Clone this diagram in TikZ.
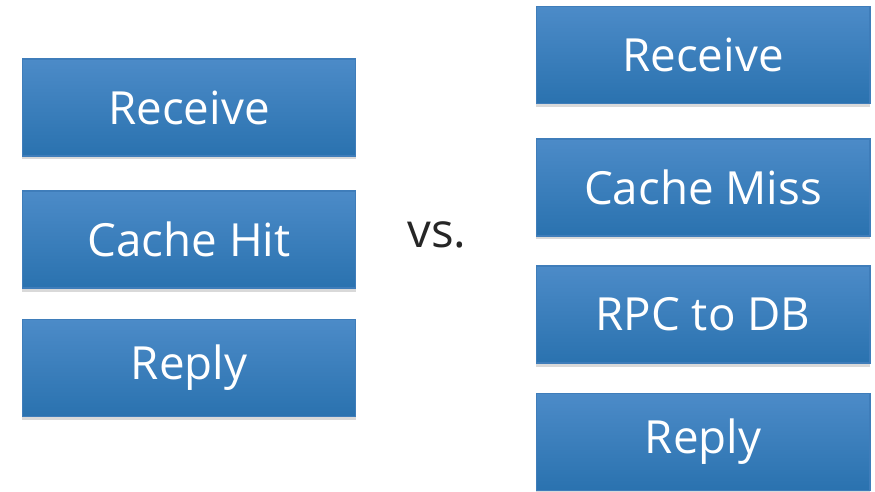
\documentclass[tikz,border=0pt]{standalone}
\usepackage{fontspec}
\setmainfont{Open Sans}
\usetikzlibrary{shadows}
\definecolor{boxtop}{HTML}{4C8BC8}
\definecolor{boxbottom}{HTML}{2A72AF}
\definecolor{boxline}{HTML}{3F7DBA}
\tikzset{
  stepbox/.style={draw=boxline, line width=0.6pt, top color=boxtop, bottom color=boxbottom,
    minimum width=6.68cm, minimum height=1.94cm, inner sep=0pt, text=white,
    font=\fontsize{26}{30}\selectfont,
    drop shadow={shadow xshift=0pt, shadow yshift=-2pt, opacity=0.25, fill=black!60}},
}
\begin{document}
\begin{tikzpicture}[x=0.02cm,y=-0.02cm]
  \useasboundingbox (0,0) rectangle (875,492);
  % cache hit
  \node[stepbox] (hitrecv) at (189,107.5) {Receive};
  \node[stepbox] (hit) at (189,239.5) {Cache Hit};
  \node[stepbox] (hitreply) at (189,368) {Reply};
  \node[text=black!85, font=\fontsize{27}{32}\selectfont] (vs) at (437,235) {vs.};
  % cache miss
  \node[stepbox] (missrecv) at (703,55) {Receive};
  \node[stepbox] (miss) at (703,187.5) {Cache Miss};
  \node[stepbox] (rpc) at (703,314.5) {RPC to DB};
  \node[stepbox] (missreply) at (703,442) {Reply};
\end{tikzpicture}
\end{document}
